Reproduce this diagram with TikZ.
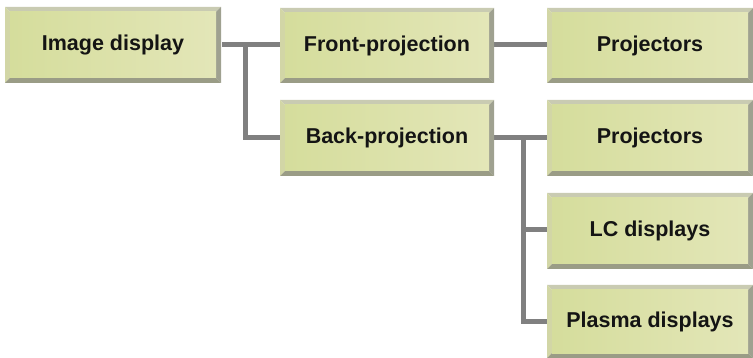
\documentclass[tikz,border=0pt]{standalone}
\usepackage{fontspec}
\setmainfont{Liberation Sans}
\begin{document}
\begin{tikzpicture}[x=1pt,y=-1pt,
  lbl/.style={font=\bfseries\fontsize{21.5}{24}\selectfont, text=black!92},
  conn/.style={draw=black!50, line width=5pt}]
\useasboundingbox (0,0) rectangle (753,358);
\definecolor{bevtop}{HTML}{C9CBB2}
\definecolor{bevleft}{HTML}{D2D6A6}
\definecolor{bevright}{HTML}{9FA190}
\definecolor{bevbot}{HTML}{9A9C86}
\definecolor{faceL}{HTML}{D5DD9C}
\definecolor{faceR}{HTML}{E3E6B8}
\newcommand{\bbox}[6]{% name, x1, y1, x2, y2, text
  \fill[bevtop] (#2,#3) -- (#4,#3) -- (#4-5,#3+5) -- (#2+5,#3+5) -- cycle;
  \fill[bevleft] (#2,#3) -- (#2+5,#3+5) -- (#2+5,#5-5) -- (#2,#5) -- cycle;
  \fill[bevright] (#4,#3) -- (#4,#5) -- (#4-5,#5-5) -- (#4-5,#3+5) -- cycle;
  \fill[bevbot] (#2,#5) -- (#4,#5) -- (#4-5,#5-5) -- (#2+5,#5-5) -- cycle;
  \shade[left color=faceL, right color=faceR] (#2+5,#3+5) rectangle (#4-5,#5-5);
  \node[lbl, inner sep=0pt, minimum width={#4-#2}, minimum height={#5-#3}] (#1) at ({(#2+#4)/2},{(#3+#5)/2}) {#6};
}
% connectors first
\coordinate (j1) at (245,45);
\coordinate (j2) at (245,138);
\coordinate (k1) at (523,138);
\coordinate (k2) at (523,230);
\coordinate (k3) at (523,322);
\draw[conn] (222,45) -- (280,45);
\draw[conn] (j1) -- (j2) -- (280,138);
\draw[conn] (494,45) -- (547,45);
\draw[conn] (494,138) -- (547,138);
\draw[conn] (k1) -- (k3) -- (547,322);
\draw[conn] (k2) -- (547,230);
% boxes
\bbox{a}{5}{7}{221}{83}{Image display}
\bbox{b}{280}{8}{494}{83}{Front-projection}
\bbox{c}{547}{8}{753}{83}{Projectors}
\bbox{d}{280}{100}{494}{176}{Back-projection}
\bbox{e}{547}{100}{753}{176}{Projectors}
\bbox{f}{547}{193}{753}{269}{LC displays}
\bbox{g}{547}{285}{753}{358}{Plasma displays}
\end{tikzpicture}
\end{document}
